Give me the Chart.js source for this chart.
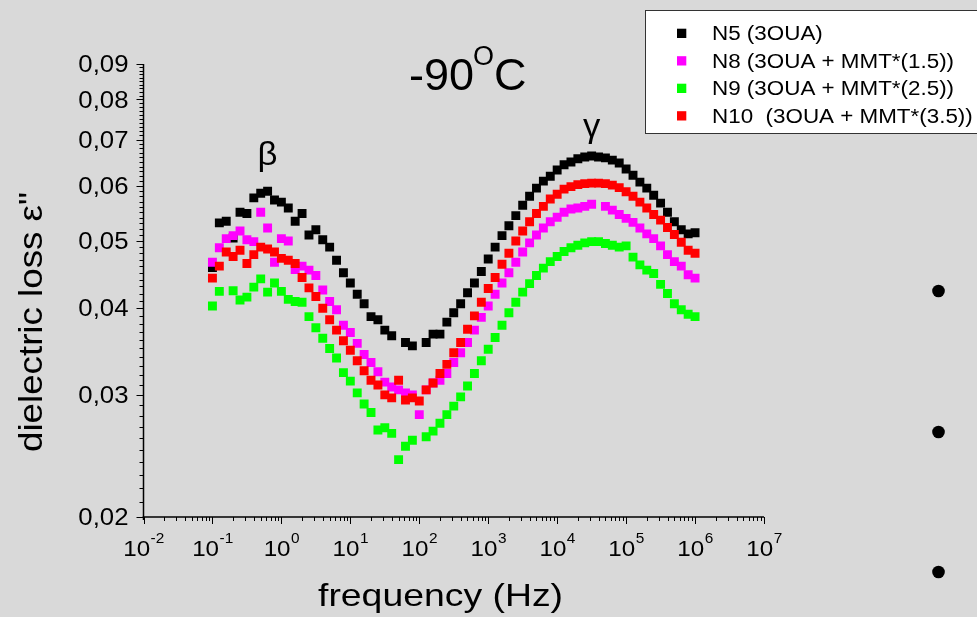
<!DOCTYPE html>
<html><head><meta charset="utf-8">
<script src="https://cdn.jsdelivr.net/npm/chart.js@4.4.0/dist/chart.umd.min.js"></script>
<style>
html,body{margin:0;padding:0;background:#d9d9d9;}
#wrap{width:977px;height:617px;position:relative;}
</style>
</head><body>
<div id="wrap"><canvas id="c"></canvas></div>
<script>
// ---- data ----
const frequencies = [
0.1,0.1259,0.1585,0.1995,0.2512,0.3162,0.3981,0.5012,0.631,0.7943,
1,1.259,1.585,1.995,2.512,3.162,3.981,5.012,6.31,7.943,
10,12.59,15.85,19.95,25.12,31.62,39.81,50.12,63.1,79.43,
100,125.9,158.5,199.5,251.2,316.2,398.1,501.2,631,794.3,
1000,1259,1585,1995,2512,3162,3981,5012,6310,7943,
10000,12590,15850,19950,25120,31620,39810,50120,63100,79430,
100000,125900,158500,199500,251200,316200,398100,501200,631000,794300,
1000000];
const seriesN5 = [
0.0458,0.0531,0.0534,0.0505,0.0550,0.0548,0.0577,0.0586,0.0590,0.0573,
0.0569,0.0558,0.0534,0.0548,0.0510,0.0519,0.0502,0.0490,0.0469,0.0450,
0.0435,0.0419,0.0406,0.0389,0.0385,0.0372,0.0365,null,0.0357,0.0353,
null,0.0357,0.0367,0.0367,0.0382,0.0394,0.0406,0.0421,0.0435,0.0452,
0.0471,0.0490,0.0509,0.0526,0.0544,0.0563,0.0580,0.0596,0.0610,0.0620,
0.0633,0.0644,0.0650,0.0657,0.0661,0.0663,0.0661,0.0659,0.0654,0.0648,
0.0635,0.0622,0.0608,0.0596,0.0582,0.0567,0.0550,0.0533,0.0519,0.0512,
0.0514];
const seriesN8 = [
0.0466,0.0489,0.0504,0.0509,0.0517,0.0502,0.0499,0.0550,0.0522,0.0466,
0.0504,0.0500,0.0455,0.0460,0.0454,0.0446,0.0425,0.0409,0.0398,0.0378,
0.0369,0.0356,0.0343,0.0334,0.0324,0.0313,0.0308,0.0305,0.0302,0.0300,
0.0281,0.0305,0.0312,0.0315,0.0322,0.0334,0.0345,0.0357,0.0372,0.0388,
0.0403,0.0419,0.0435,0.0450,0.0466,0.0482,0.0497,0.0510,0.0522,0.0533,
0.0541,0.0550,0.0556,0.0558,0.0561,0.0565,null,0.0561,0.0554,0.0546,
0.0539,0.0532,0.0522,0.0512,0.0504,0.0492,0.0478,0.0467,0.0460,0.0447,
0.0442];
const seriesN9 = [
0.0403,0.0423,null,0.0424,0.0411,0.0415,0.0429,0.0441,0.0422,0.0435,
0.0423,0.0412,0.0409,0.0408,0.0389,0.0375,0.0362,0.0350,0.0339,0.0323,
0.0314,0.0302,0.0291,0.0283,0.0267,0.0269,0.0264,0.0242,0.0253,0.0258,
null,0.0261,0.0266,0.0273,0.0281,0.0289,0.0298,0.0309,0.0322,0.0336,
0.0349,0.0363,0.0378,0.0394,0.0408,0.0422,0.0434,0.0446,0.0457,0.0467,
0.0475,0.0483,0.0489,0.0493,0.0497,0.0499,0.0499,0.0496,0.0493,0.0490,
0.0492,0.0474,0.0462,0.0454,0.0449,0.0433,0.0420,0.0406,0.0398,0.0392,
0.0389];
const seriesN10 = [
0.0442,0.0460,0.0482,0.0475,0.0485,0.0464,0.0478,0.0490,0.0487,0.0482,
0.0472,0.0469,0.0464,0.0443,0.0428,0.0416,0.0400,0.0385,0.0372,0.0359,
0.0348,0.0336,0.0325,0.0315,0.0310,0.0300,0.0297,0.0315,0.0295,0.0297,
0.0294,0.0305,0.0312,0.0322,0.0332,0.0345,0.0357,0.0373,0.0390,0.0408,
0.0427,0.0443,0.0463,0.0480,0.0500,0.0517,0.0533,0.0548,0.0561,0.0575,
0.0584,0.0594,0.0599,0.0603,0.0605,0.0606,0.0606,0.0605,0.0602,0.0597,
0.0589,0.0580,0.0569,0.0558,0.0546,0.0536,0.0523,0.0511,0.0498,0.0485,
0.0480];
const seriesNames = ['N5 (3OUA)','N8 (3OUA + MMT*(1.5))','N9 (3OUA + MMT*(2.5))','N10  (3OUA + MMT*(3.5))'];
const seriesColors = ['#000000','#ff00ff','#00ff00','#ff0000'];
const yMajorTicks = [0.02,0.03,0.04,0.05,0.06,0.07,0.08,0.09];
const yTickLabels = ['0,02','0,03','0,04','0,05','0,06','0,07','0,08','0,09'];
const xDecades = [-2,-1,0,1,2,3,4,5,6,7];
const xTitle = 'frequency (Hz)';
const yTitle = 'dielectric loss \u03B5"';
const chartTitle = ['-90','O','C'];
const peakLabels = [{t:'\u03B2', f:0.63, v:0.0644}, {t:'\u03B3', f:31620, v:0.0706}];

// ---- helpers ----
const FONT = '"Liberation Sans", Arial, Helvetica, sans-serif';
function txt(ctx, s, x, y, size, align, sx){
  ctx.font = size + 'px ' + FONT;
  const w = ctx.measureText(s).width;
  sx = sx || 1;
  ctx.save();
  ctx.translate(x, y);
  ctx.scale(sx, 1);
  const ox = align === 'center' ? -w/2 : (align === 'right' ? -w : 0);
  ctx.textAlign = 'left';
  ctx.textBaseline = 'alphabetic';
  ctx.fillText(s, ox, 0);
  ctx.restore();
  return w * sx;
}
function fitW(ctx, s, size){ ctx.font = size + 'px ' + FONT; return ctx.measureText(s).width; }

const decor = {
  id: 'decor',
  afterDraw(chart){
    const ctx = chart.ctx;
    const xs = chart.scales.x, ys = chart.scales.y;
    const area = chart.chartArea;
    ctx.save();
    ctx.fillStyle = '#000';
    ctx.strokeStyle = '#000';
    // axes lines
    ctx.lineWidth = 1.5;
    ctx.beginPath();
    ctx.moveTo(area.left, area.top); ctx.lineTo(area.left, area.bottom + 3);
    ctx.moveTo(area.left - 1, area.bottom); ctx.lineTo(area.right, area.bottom);
    ctx.stroke();
    // y ticks
    ctx.lineWidth = 1;
    ctx.beginPath();
    for (let i = 20; i <= 90; i++) {
      const v = i / 1000;
      const py = Math.round(ys.getPixelForValue(v)) + 0.5;
      const len = (i % 10 === 0) ? 7 : 4;
      ctx.moveTo(area.left, py); ctx.lineTo(area.left - len, py);
    }
    // x ticks
    for (let d = xDecades[0]; d <= xDecades[xDecades.length-1]; d++) {
      const px = Math.round(xs.getPixelForValue(Math.pow(10, d))) + 0.5;
      ctx.moveTo(px, area.bottom); ctx.lineTo(px, area.bottom + 7);
      if (d < xDecades[xDecades.length-1]) {
        for (let m = 2; m <= 9; m++) {
          const qx = Math.round(xs.getPixelForValue(m * Math.pow(10, d))) + 0.5;
          ctx.moveTo(qx, area.bottom); ctx.lineTo(qx, area.bottom + 4);
        }
      }
    }
    ctx.stroke();
    // y tick labels
    yMajorTicks.forEach((v, i) => {
      const py = ys.getPixelForValue(v);
      txt(ctx, yTickLabels[i], 128.5, py + 8.2, 23, 'right', 1.12);
    });
    // x tick labels
    xDecades.forEach(d => {
      const px = xs.getPixelForValue(Math.pow(10, d));
      const base = '10', ex = String(d);
      const wb = fitW(ctx, base, 22) * 1.1, we = fitW(ctx, ex, 14) * 1.1;
      const left = px - (wb + we) / 2;
      txt(ctx, base, left, 556, 22, 'left', 1.1);
      txt(ctx, ex, left + wb + 0.5, 543, 14, 'left', 1.1);
    });
    // axis titles
    {
      ctx.font = '32px ' + FONT;
      const w = ctx.measureText(xTitle).width;
      txt(ctx, xTitle, 318, 606, 32, 'left', 245 / w);
    }
    {
      ctx.save();
      ctx.translate(41.5, 322);
      ctx.rotate(-Math.PI / 2);
      ctx.font = '34px ' + FONT;
      const w = ctx.measureText(yTitle).width;
      txt(ctx, yTitle, 0, 0, 34, 'center', 260 / w);
      ctx.restore();
    }
    // chart title -90°C
    txt(ctx, chartTitle[0], 409, 90, 45, 'left', 1);
    txt(ctx, chartTitle[1], 473, 65, 27, 'left', 1);
    txt(ctx, chartTitle[2], 494, 90, 45, 'left', 1);
    // peak labels
    txt(ctx, peakLabels[0].t, xs.getPixelForValue(peakLabels[0].f), ys.getPixelForValue(peakLabels[0].v), 33, 'center', 1.05);
    txt(ctx, peakLabels[1].t, xs.getPixelForValue(peakLabels[1].f), ys.getPixelForValue(peakLabels[1].v), 33, 'center', 1.05);
    // legend
    ctx.fillStyle = '#ffffff';
    ctx.fillRect(645.5, 10.5, 340, 123);
    ctx.strokeStyle = '#333';
    ctx.lineWidth = 1;
    ctx.strokeRect(645.5, 10.5, 340, 123);
    const rows = [33.3, 60.8, 88.3, 115.8];
    chart.data.datasets.forEach((ds, i) => {
      ctx.fillStyle = ds.backgroundColor;
      ctx.fillRect(677, rows[i] - 4.6, 9.3, 9.3);
      ctx.fillStyle = '#000';
      txt(ctx, ds.label, 712, rows[i] + 7, 20, 'left', 1.12);
    });
    // bullet dots
    ctx.fillStyle = '#000';
    [291, 432, 572].forEach(y => {
      ctx.beginPath(); ctx.arc(938.5, y, 6.3, 0, Math.PI * 2); ctx.fill();
    });
    ctx.restore();
  }
};

const allSeries = [seriesN5, seriesN8, seriesN9, seriesN10];
const datasets = allSeries.map((s, i) => ({
  label: seriesNames[i],
  data: frequencies.map((f, k) => ({x: f, y: s[k]})).filter(p => p.y !== null),
  backgroundColor: seriesColors[i],
  borderColor: seriesColors[i],
  pointStyle: 'rect',
  pointRadius: 6.3,
  pointHoverRadius: 6.3,
  pointBorderWidth: 0,
  showLine: false,
  order: allSeries.length - i
}));

new Chart(document.getElementById('c'), {
  type: 'scatter',
  data: { datasets },
  options: {
    responsive: true,
    maintainAspectRatio: false,
    animation: false,
    events: [],
    layout: { padding: { left: 143.5, right: 213, top: 64, bottom: 100 } },
    plugins: { legend: { display: false }, tooltip: { enabled: false }, title: { display: false } },
    scales: {
      x: { type: 'logarithmic', min: 0.01, max: 1e7, display: false },
      y: { type: 'logarithmic', min: 0.02, max: 0.09, display: false }
    }
  },
  plugins: [decor]
});
</script>
</body></html>
